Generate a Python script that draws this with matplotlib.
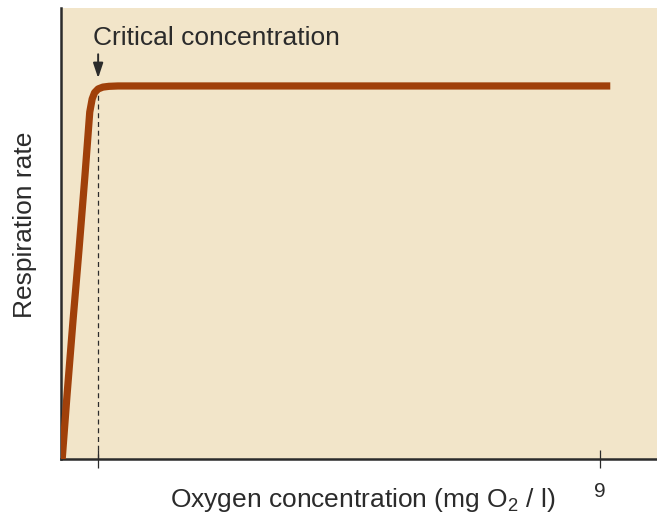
import numpy as np
import matplotlib
matplotlib.use('agg')
import matplotlib.pyplot as plt

plt.rcParams['font.family'] = ['Liberation Sans', 'DejaVu Sans']
plt.rcParams['mathtext.fontset'] = 'custom'
plt.rcParams['mathtext.rm'] = 'Liberation Sans'
plt.rcParams['mathtext.it'] = 'Liberation Sans'

# curve (oxygen concentration, relative respiration rate)
oxygen = [0.02, 0.10, 0.20, 0.30, 0.40, 0.48, 0.52, 0.56, 0.62, 0.70, 0.80, 0.95, 9.17]
rate = [0.0, 0.17, 0.37, 0.56, 0.76, 0.93, 0.965, 0.982, 0.992, 0.997, 0.999, 1.0, 1.0]
critical = 0.62
xticks = [critical, 9]
xticklabels = ['', '9']

bg = '#f2e5c9'
line_col = '#a0400a'
dark = '#2b2b2b'

fig = plt.figure(figsize=(6.57, 5.17), dpi=100)
ax = fig.add_axes([61/657, 58/517, 596/657, 451/517])
ax.set_facecolor(bg)

ax.plot(oxygen, rate, color=line_col, lw=5.2, solid_capstyle='butt',
        solid_joinstyle='round', zorder=3)
ax.plot([critical, critical], [0, 0.99], color=dark, lw=0.9,
        ls=(0, (4, 3)), zorder=2)

ax.annotate('', xy=(critical, 1.021), xytext=(critical, 1.085),
            arrowprops=dict(arrowstyle='-|>,head_length=0.6,head_width=0.2',
                            color=dark, lw=1.4, mutation_scale=15,
                            shrinkA=0, shrinkB=0))
ax.text(0.53, 1.11, 'Critical concentration', fontsize=19, color=dark,
        ha='left', va='baseline')

ax.set_xlim(0, 9.95)
ax.set_ylim(0, 1.209)

for s in ['top', 'right']:
    ax.spines[s].set_visible(False)
for s in ['left', 'bottom']:
    ax.spines[s].set_linewidth(1.8)
    ax.spines[s].set_color(dark)

ax.set_xticks(xticks)
ax.set_xticklabels(xticklabels, fontsize=15, color=dark)
ax.tick_params(axis='x', direction='inout', length=13, width=0.9,
               color=dark, pad=10)
ax.set_yticks([])

fig.text(363/657, 1 - 500/517, 'Oxygen concentration (mg O$_2$ / l)',
         fontsize=19, color=dark, ha='center', va='center')
fig.text(25/657, 1 - 225/517, 'Respiration rate', fontsize=19, color=dark,
         ha='center', va='center', rotation=90)

fig.savefig('out.png', dpi=100)
